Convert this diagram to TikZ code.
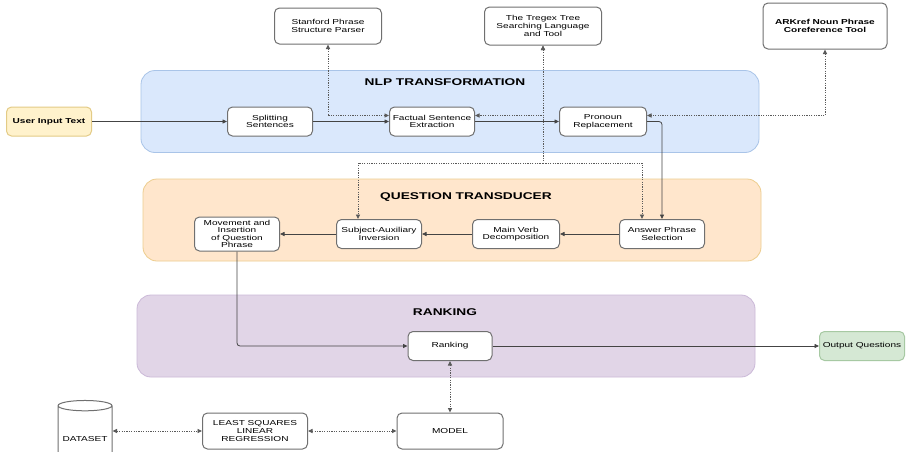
\documentclass[tikz,border=0pt]{standalone}
\usepackage{fontspec}
\setmainfont[FakeStretch=1.4]{Liberation Sans}
\usetikzlibrary{arrows.meta,shapes.geometric}
\definecolor{NlpBlue}{HTML}{DAE8FC}
\definecolor{NlpBorder}{HTML}{A9C4E8}
\definecolor{QtOrange}{HTML}{FFE6CC}
\definecolor{QtBorder}{HTML}{EDCD8E}
\definecolor{RankPurple}{HTML}{E1D5E7}
\definecolor{RankBorder}{HTML}{CBB9D8}
\definecolor{InYellow}{HTML}{FFF2CC}
\definecolor{InBorder}{HTML}{E3CB86}
\definecolor{OutGreen}{HTML}{D5E8D4}
\definecolor{OutBorder}{HTML}{A7C9A3}
\definecolor{BoxGray}{HTML}{707070}
\definecolor{LineGray}{HTML}{444444}
\definecolor{DotGray}{HTML}{5A5A5A}

\begin{document}
\begin{tikzpicture}[
    x=1pt, y=-1pt,
    font=\fontsize{7.2}{7.6}\selectfont,
    >={Triangle[length=4.5pt,width=4pt]},
    box/.style={
        draw=BoxGray,
        line width=1pt,
        rounded corners=5pt,
        fill=white,
        align=center,
        inner sep=2pt,
        minimum width=85pt,
        minimum height=29pt
    },
    toolbox/.style={box, minimum width=107pt, minimum height=36pt},
    panel/.style={rounded corners=14pt, line width=0.8pt, minimum width=618pt, minimum height=82pt},
    paneltitle/.style={font=\fontsize{9.8}{11}\selectfont\bfseries},
    arrow/.style={->, line width=0.8pt, draw=LineGray, rounded corners=3pt},
    dotline/.style={line width=0.9pt, draw=DotGray, dash pattern=on 1.2pt off 1.2pt},
    dotarrow/.style={dotline, <->}
]

\path[use as bounding box, fill=white] (0,0) rectangle (906,451);

% the three stages
\node[panel, draw=NlpBorder, fill=NlpBlue] (nlp) at (450,111.5) {};
\node[panel, draw=QtBorder, fill=QtOrange] (qt) at (452,220) {};
\node[panel, draw=RankBorder, fill=RankPurple] (rank) at (446,336) {};

\node[paneltitle] (nlptitle) at (445,82) {NLP TRANSFORMATION};
\node[paneltitle] (qttitle) at (466,197) {QUESTION TRANSDUCER};
\node[paneltitle] (ranktitle) at (445,312) {RANKING};

% outside tools
\node[toolbox] (stanford) at (328,26) {Stanford Phrase\\Structure Parser};
\node[toolbox, minimum width=117pt, minimum height=38pt] (tregex) at (543,26) {The Tregex Tree\\Searching Language\\and Tool};
\node[toolbox, minimum width=124pt, minimum height=46pt, font=\fontsize{7.2}{7.6}\selectfont\bfseries] (arkref) at (825,26) {ARKref Noun Phrase\\Coreference Tool};

\node[box, fill=InYellow, draw=InBorder, font=\fontsize{7.2}{7.6}\selectfont\bfseries] (user) at (49,121.5) {User Input Text};
\node[box] (split) at (270,121.5) {Splitting\\Sentences};
\node[box] (fact) at (432,121.5) {Factual Sentence\\Extraction};
\node[box, minimum width=87pt] (pron) at (603,121.5) {Pronoun\\Replacement};

\node[box, minimum height=34pt] (move) at (237,234) {Movement and\\Insertion\\of Question\\Phrase};
\node[box] (subj) at (379,234) {Subject-Auxiliary\\Inversion};
\node[box, minimum width=87pt] (verb) at (516,234) {Main Verb\\Decomposition};
\node[box] (ans) at (662,234) {Answer Phrase\\Selection};

\node[box, minimum width=84pt] (ranking) at (450,346) {Ranking};
\node[box, fill=OutGreen, draw=OutBorder] (output) at (862,346) {Output Questions};

\node[cylinder, shape border rotate=90, aspect=0.22, draw=BoxGray, line width=1pt, fill=white,
      minimum width=54pt, minimum height=70pt, inner sep=1pt] (dataset) at (85,439) {DATASET};
\node[box, minimum width=105pt, minimum height=36pt] (lslr) at (255,431) {LEAST SQUARES\\LINEAR\\REGRESSION};
\node[box, minimum width=106pt, minimum height=36pt] (model) at (450,431) {MODEL};

\coordinate (tjoin) at (543,163);

% main flow
\draw[arrow] (user) -- (split);
\draw[arrow] (split) -- (fact);
\draw[arrow] (fact) -- (pron);
\draw[arrow] (pron) -| (ans);
\draw[arrow] (ans) -- (verb);
\draw[arrow] (verb) -- (subj);
\draw[arrow] (subj) -- (move);
\draw[arrow] (move) |- (ranking);
\draw[arrow] (ranking) -- (output);

% tool links
\draw[dotarrow] (stanford) |- ([yshift=6pt]fact.west);
\draw[dotarrow] (tregex) |- ([yshift=6pt]fact.east);
\draw[dotarrow] (arkref) |- ([yshift=6pt]pron.east);
\draw[dotline, <-] (tregex) -- (tjoin);
\draw[dotline, ->] (tjoin) -| ([xshift=-21pt]subj.north);
\draw[dotline, ->] (tjoin) -| ([xshift=-20pt]ans.north);

\draw[dotarrow] (ranking) -- (model);
\draw[dotarrow] (lslr) -- (model);
\draw[dotarrow] (dataset.east |- lslr) -- (lslr);

\end{tikzpicture}
\end{document}
